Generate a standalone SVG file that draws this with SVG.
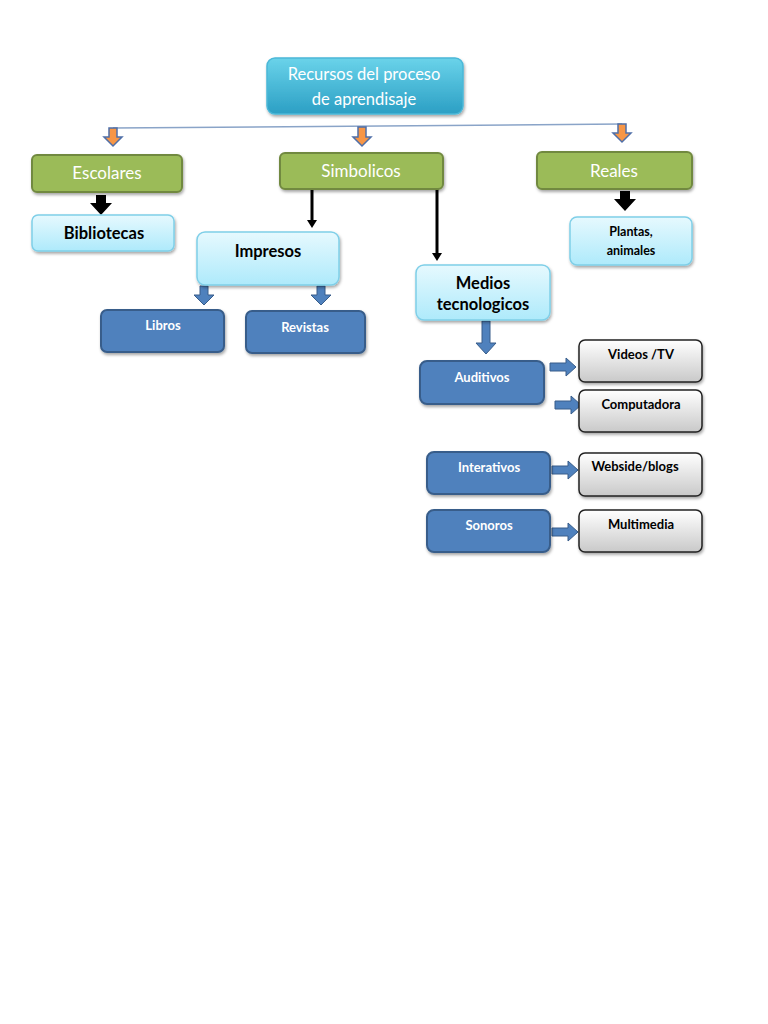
<svg xmlns="http://www.w3.org/2000/svg" width="768" height="1024" viewBox="0 0 768 1024">
<defs>
<linearGradient id="gTitle" x1="0" y1="0" x2="0" y2="1"><stop offset="0" stop-color="#6ad3ea"/><stop offset="1" stop-color="#2b9fc4"/></linearGradient>
<linearGradient id="gLight" x1="0" y1="0" x2="0" y2="1"><stop offset="0" stop-color="#e6f9fe"/><stop offset="1" stop-color="#aeeafb"/></linearGradient>
<linearGradient id="gGray" x1="0" y1="0" x2="0" y2="1"><stop offset="0" stop-color="#ffffff"/><stop offset="1" stop-color="#c9c9c9"/></linearGradient>
<filter id="sh" x="-10%" y="-10%" width="130%" height="140%"><feDropShadow dx="1" dy="2" stdDeviation="1.5" flood-color="#000" flood-opacity="0.35"/></filter>
</defs>
<style>
.title{fill:url(#gTitle);stroke:#4bb8d8;stroke-width:1.5;filter:url(#sh)}
.green{fill:#9bbb59;stroke:#71893f;stroke-width:2;filter:url(#sh)}
.light{fill:url(#gLight);stroke:#7fcfe8;stroke-width:1.5;filter:url(#sh)}
.blue{fill:#4f81bd;stroke:#385d8a;stroke-width:2;filter:url(#sh)}
.gray{fill:url(#gGray);stroke:#222;stroke-width:1.5;filter:url(#sh)}
text{font-family:Lato,"Open Sans","Liberation Sans",sans-serif;text-anchor:middle}
.tw{fill:#fff;font-size:16.5px}
.tg{fill:#fff;font-size:17px}
.tb{fill:#000;font-size:16.5px;font-weight:bold}
.sw{fill:#fff;font-size:13px;font-weight:bold}
.sb{fill:#000;font-size:13px;font-weight:bold}
.sp{fill:#000;font-size:12.5px;font-weight:bold}
.oarr{fill:#f79646;stroke:#4f6fa8;stroke-width:1.5}
.barr{fill:#4f81bd;stroke:#385d8a;stroke-width:1}
.karr{fill:#000}
</style>
<g id="connectors">
<line x1="113" y1="128" x2="622" y2="124" stroke="#8aa4c8" stroke-width="1.5"/>
<path class="oarr" d="M109,128 h8 v9 h5 l-9,9 l-9,-9 h5 z"/>
<path class="oarr" d="M358,127 h8 v10 h5 l-9,9 l-9,-9 h5 z"/>
<path class="oarr" d="M618,124 h8 v9 h5 l-9,9 l-9,-9 h5 z"/>
<path class="karr" d="M96,195 h10 v8 h6 l-11,12 l-11,-12 h6 z"/>
<path class="karr" d="M620,191 h10 v8 h6 l-11,12 l-11,-12 h6 z"/>
<line x1="312" y1="189" x2="312" y2="220" stroke="#000" stroke-width="3"/>
<path class="karr" d="M307,220 h10 l-5,8 z"/>
<line x1="437" y1="189" x2="437" y2="254" stroke="#000" stroke-width="3"/>
<path class="karr" d="M432,253 h10 l-5,8 z"/>
<path class="barr" d="M200,286 h8 v9 h6 l-10,10 l-10,-10 h6 z"/>
<path class="barr" d="M317,286 h8 v9 h6 l-10,10 l-10,-10 h6 z"/>
<path class="barr" d="M482,321 h8 v22 h6 l-10,11 l-10,-11 h6 z"/>
<path class="barr" d="M550,363 h16 v-5 l10,9 l-10,9 v-5 h-16 z"/>
<path class="barr" d="M555,401 h16 v-5 l10,9 l-10,9 v-5 h-16 z"/>
<path class="barr" d="M552,466 h16 v-5 l10,9 l-10,9 v-5 h-16 z"/>
<path class="barr" d="M552,528 h16 v-5 l10,9 l-10,9 v-5 h-16 z"/>
</g>
<g id="n-title"><rect class="title" x="267" y="58" width="196" height="56" rx="8"/><text class="tw" x="364" y="80">Recursos del proceso</text><text class="tw" x="364" y="105">de aprendisaje</text></g>
<g id="n-escolares"><rect class="green" x="32" y="155" width="150" height="37" rx="5"/><text class="tg" x="107" y="179">Escolares</text></g>
<g id="n-simbolicos"><rect class="green" x="280" y="153" width="163" height="36" rx="5"/><text class="tg" x="361" y="177">Simbolicos</text></g>
<g id="n-reales"><rect class="green" x="537" y="152" width="155" height="37" rx="5"/><text class="tg" x="614" y="177">Reales</text></g>
<g id="n-bibliotecas"><rect class="light" x="32" y="215" width="142" height="36" rx="6"/><text class="tb" x="104" y="239">Bibliotecas</text></g>
<g id="n-impresos"><rect class="light" x="197" y="232" width="142" height="53" rx="8"/><text class="tb" x="268" y="257">Impresos</text></g>
<g id="n-medios"><rect class="light" x="416" y="265" width="134" height="55" rx="8"/><text class="tb" x="483" y="289">Medios</text><text class="tb" x="483" y="310">tecnologicos</text></g>
<g id="n-plantas"><rect class="light" x="570" y="217" width="122" height="48" rx="7"/><text class="sp" x="631" y="236">Plantas,</text><text class="sp" x="631" y="255">animales</text></g>
<g id="n-libros"><rect class="blue" x="101" y="310" width="123" height="42" rx="6"/><text class="sw" x="163" y="330">Libros</text></g>
<g id="n-revistas"><rect class="blue" x="246" y="311" width="119" height="42" rx="6"/><text class="sw" x="305" y="332">Revistas</text></g>
<g id="n-auditivos"><rect class="blue" x="420" y="361" width="124" height="43" rx="7"/><text class="sw" x="482" y="382">Auditivos</text></g>
<g id="n-interativos"><rect class="blue" x="427" y="452" width="123" height="42" rx="7"/><text class="sw" x="489" y="472">Interativos</text></g>
<g id="n-sonoros"><rect class="blue" x="427" y="510" width="123" height="42" rx="7"/><text class="sw" x="489" y="530">Sonoros</text></g>
<g id="n-videos"><rect class="gray" x="579" y="340" width="123" height="42" rx="6"/><text class="sb" x="641" y="359">Videos /TV</text></g>
<g id="n-computadora"><rect class="gray" x="579" y="390" width="123" height="42" rx="6"/><text class="sb" x="641" y="409">Computadora</text></g>
<g id="n-webside"><rect class="gray" x="579" y="453" width="123" height="43" rx="6"/><text class="sb" x="635" y="471">Webside/blogs</text></g>
<g id="n-multimedia"><rect class="gray" x="579" y="510" width="123" height="42" rx="6"/><text class="sb" x="641" y="529">Multimedia</text></g>
</svg>
